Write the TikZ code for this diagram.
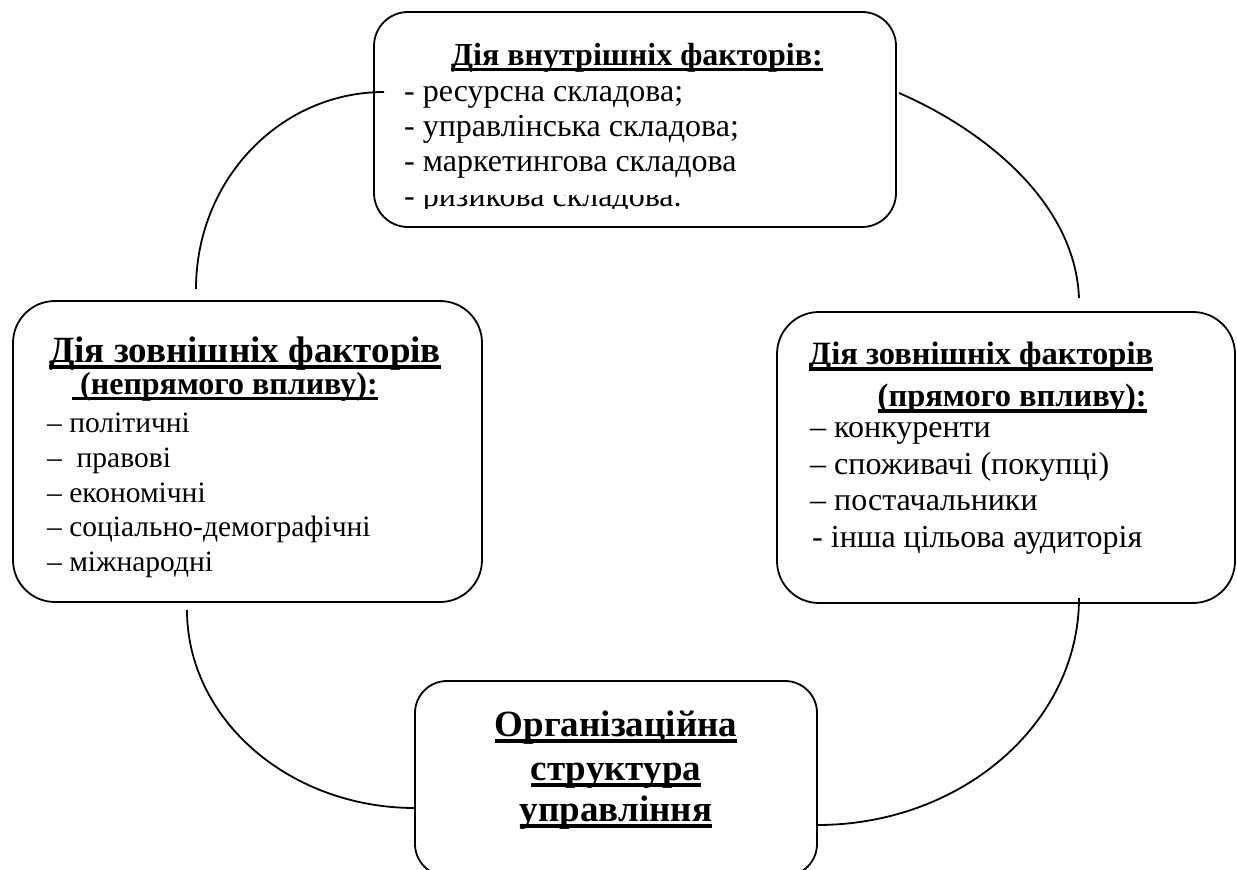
\documentclass[tikz,border=0pt]{standalone}
\usepackage{fontspec}
\setmainfont{Liberation Serif}
\newcommand\ulx[1]{\setbox0=\hbox{#1}\rlap{\rule[-0.2em]{\wd0}{0.12em}}\box0}
\begin{document}
\begin{tikzpicture}[x=1pt,y=-1pt,
  box/.style={draw, line width=1.8pt, fill=white, rounded corners=#1, inner sep=0pt},
  box/.default=36pt,
  link/.style={line width=1.8pt},
  ttl/.style={anchor=base, inner sep=0pt, font=\fontsize{#1}{#1}\selectfont\bfseries},
  item/.style={anchor=base west, inner sep=0pt, font=\fontsize{#1}{#1}\selectfont}]
\useasboundingbox (0,0) rectangle (1237,870);
% boxes
\node[box=34pt, minimum width=522pt, minimum height=215pt] (top) at (635,119.5) {};
\node[box=42pt, minimum width=469pt, minimum height=301pt] (left) at (247.5,451.5) {};
\node[box=42pt, minimum width=458pt, minimum height=291pt] (right) at (1006,457.5) {};
\node[box=32pt, minimum width=402pt, minimum height=195pt] (bottom) at (616,778.5) {};
% top box text
\node[ttl=32] (t0) at (637,65) {\ulx{Дія внутрішніх факторів:}};
\node[item=32] (t1) at (404,101) {- ресурсна складова;};
\node[item=32] (t2) at (404,136) {- управлінська складова;};
\node[item=32] (t3) at (404,171) {- маркетингова складова};
\begin{scope}
\clip (380,195) rectangle (890,208);
\node[item=32] (t4) at (404,206) {- ризикова складова.};
\end{scope}
% left box text
\node[ttl=37] (l0) at (245,362) {\ulx{Дія зовнішніх факторів}};
\node[ttl=32] (l1) at (225,394) {\ulx{\ (непрямого впливу):}};
\node[item=29.5] (l2) at (47,432) {– політичні};
\node[item=29.5] (l3) at (47,467) {– \ правові};
\node[item=29.5] (l4) at (47,502) {– економічні};
\node[item=29.5] (l5) at (47,536) {– соціально-демографічні};
\node[item=29.5] (l6) at (47,571) {– міжнародні};
% right box text
\node[ttl=32.5] (r0) at (981,364) {\ulx{Дія зовнішніх факторів}};
\node[ttl=32.5, anchor=base east] (r1) at (1147,406) {\ulx{(прямого впливу):}};
\node[item=32] (r2) at (810,437) {– конкуренти};
\node[item=32] (r3) at (810,474) {– споживачі (покупці)};
\node[item=32] (r4) at (810,510) {– постачальники};
\node[item=32] (r5) at (812,547) {- інша цільова аудиторія};
% bottom box text
\node[ttl=37] (b0) at (616,736) {\ulx{Організаційна}};
\node[ttl=37] (b1) at (616,780) {\ulx{структура}};
\node[ttl=37] (b2) at (616,821) {\ulx{управління}};
% connector end points
\coordinate (c1s) at (196,289);
\coordinate (c1e) at (384,92);
\coordinate (c2s) at (899,93);
\coordinate (c2e) at (1079,298);
\coordinate (c3s) at (1079,598);
\coordinate (c3e) at (817,825);
\coordinate (c4s) at (187,610);
\coordinate (c4e) at (415,808);
% arcs
\draw[link] (c1s) .. controls (196,180) and (280,92) .. (c1e);
\draw[link] (c2s) .. controls (980,128) and (1075,200) .. (c2e);
\draw[link] (c3s) .. controls (1079,723) and (962,825) .. (c3e);
\draw[link] (c4s) .. controls (187,719) and (289,808) .. (c4e);
\end{tikzpicture}
\end{document}
